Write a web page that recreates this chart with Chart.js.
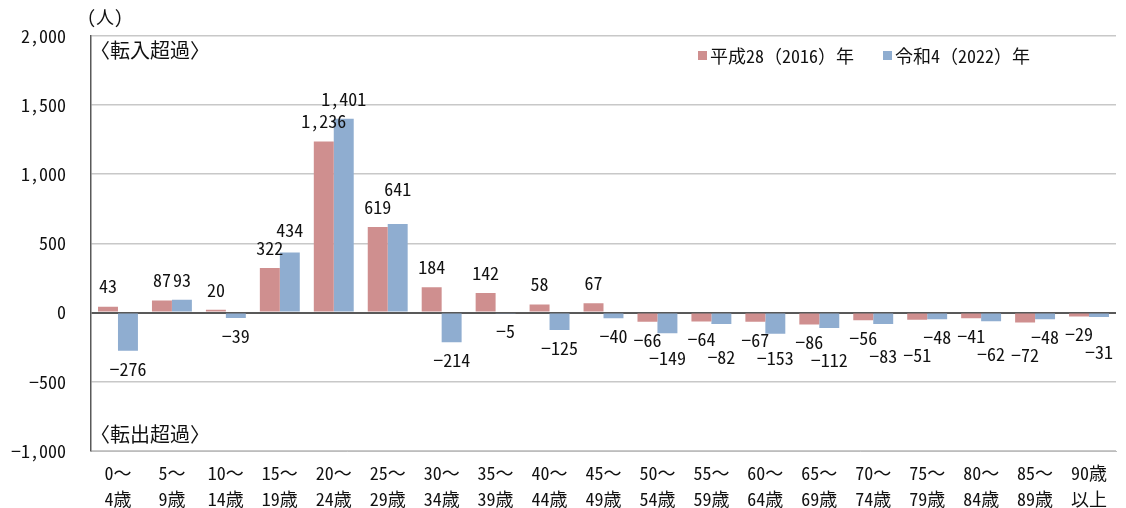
<!DOCTYPE html>
<html>
<head>
<meta charset="utf-8">
<script src="https://cdn.jsdelivr.net/npm/chart.js@4/dist/chart.umd.min.js"></script>
<style>
  html, body { margin: 0; padding: 0; background: #fff; }
  #wrap { width: 1126px; height: 508px; }
</style>
</head>
<body>
<div id="wrap"><canvas id="chart"></canvas></div>
<script>
// age groups (two-line labels)
const ageGroups = [
  ["0～", "4歳"], ["5～", "9歳"], ["10～", "14歳"], ["15～", "19歳"], ["20～", "24歳"],
  ["25～", "29歳"], ["30～", "34歳"], ["35～", "39歳"], ["40～", "44歳"], ["45～", "49歳"],
  ["50～", "54歳"], ["55～", "59歳"], ["60～", "64歳"], ["65～", "69歳"], ["70～", "74歳"],
  ["75～", "79歳"], ["80～", "84歳"], ["85～", "89歳"], ["90歳", "以上"]
];

const seriesNames = ["平成28（2016）年", "令和4（2022）年"];
const values2016 = [43, 87, 20, 322, 1236, 619, 184, 142, 58, 67, -66, -64, -67, -86, -56, -51, -41, -72, -29];
const values2022 = [-276, 93, -39, 434, 1401, 641, -214, -5, -125, -40, -149, -82, -153, -112, -83, -48, -62, -48, -31];

const yTicks = [-1000, -500, 0, 500, 1000, 1500, 2000];
const unitLabel = "(人)";
const inLabel = "〈転入超過〉";
const outLabel = "〈転出超過〉";

const colors = ["#cf8f8f", "#8fadd0"];
const FONT = "'Noto Sans Mono CJK JP', 'Noto Sans CJK JP', 'DejaVu Sans Mono', sans-serif";

function fmt(v) {
  const s = Math.abs(v).toLocaleString("en-US");
  return v < 0 ? "−" + s : s;
}

// value labels, legend and annotations
const overlay = {
  id: "overlay",
  afterDatasetsDraw(chart) {
    const ctx = chart.ctx;
    const area = chart.chartArea;
    ctx.save();
    ctx.font = "18px " + FONT;
    ctx.fillStyle = "#111";
    ctx.textAlign = "center";
    ctx.textBaseline = "middle";

    const m0 = chart.getDatasetMeta(0).data;
    const m1 = chart.getDatasetMeta(1).data;
    const zero = chart.scales.y.getPixelForValue(0);
    ageGroups.forEach((_, i) => {
      const pts = [m0[i], m1[i]].map((bar, d) => {
        const v = chart.data.datasets[d].data[i];
        const end = v >= 0 ? Math.min(bar.y, zero) : Math.max(bar.y, zero);
        const text = fmt(v);
        return { x: bar.x, y: v >= 0 ? end - 20 : end + 18, v, text, w: ctx.measureText(text).width };
      });
      // nudge the larger one away when both labels on same side collide
      const [a, b] = pts;
      const overlapX = (a.w + b.w) / 2 > Math.abs(a.x - b.x) + 1;
      if (overlapX && (a.v >= 0) === (b.v >= 0) && Math.abs(a.y - b.y) < 18) {
        const far = Math.abs(a.v) > Math.abs(b.v) ? a : b;
        const near = far === a ? b : a;
        far.y = near.y + (far.v >= 0 ? -18 : 18);
      }
      pts.forEach(p => ctx.fillText(p.text, p.x, p.y));
    });

    ctx.textAlign = "left";
    ctx.fillText(unitLabel, area.left - 4, 17);

    // legend
    let lx = 698;
    seriesNames.forEach((name, d) => {
      ctx.fillStyle = colors[d];
      ctx.fillRect(lx, 51, 9, 9);
      ctx.fillStyle = "#111";
      ctx.fillText(name, lx + 12, 56);
      lx += 185;
    });

    ctx.font = "20px " + FONT;
    ctx.fillText(inLabel, area.left - 1, area.top + 15);
    ctx.fillText(outLabel, area.left - 1, area.bottom - 17);
    ctx.restore();
  }
};

new Chart(document.getElementById("chart"), {
  type: "bar",
  data: {
    labels: ageGroups,
    datasets: [
      { label: seriesNames[0], data: values2016, backgroundColor: colors[0] },
      { label: seriesNames[1], data: values2022, backgroundColor: colors[1] }
    ]
  },
  options: {
    responsive: true,
    maintainAspectRatio: false,
    animation: false,
    layout: { padding: { top: 33, right: 10, left: 0, bottom: 0 } },
    datasets: { bar: { categoryPercentage: 0.74, barPercentage: 1.0 } },
    plugins: { legend: { display: false }, tooltip: { enabled: false } },
    scales: {
      x: {
        grid: { display: false, drawTicks: false },
        border: { color: "#bdbdbd" },
        ticks: {
          color: "#111",
          font: { family: FONT, size: 18, lineHeight: 1.4 },
          padding: 10,
          maxRotation: 0,
          autoSkip: false
        },
        afterFit(scale) { scale.height = 57; }
      },
      y: {
        min: -1000,
        max: 2000,
        afterBuildTicks(scale) { scale.ticks = yTicks.map(v => ({ value: v })); },
        grid: {
          drawTicks: false,
          color: ctx => ctx.tick && ctx.tick.value === 0 ? "#595959" : "#c8c8c8",
          lineWidth: ctx => ctx.tick && ctx.tick.value === 0 ? 2 : 1.5
        },
        border: { color: "#595959", width: 1.5 },
        ticks: {
          color: "#111",
          font: { family: FONT, size: 18 },
          padding: 25,
          callback: v => fmt(v)
        },
        afterFit(scale) { scale.width = 91; }
      }
    }
  },
  plugins: [overlay]
});
</script>
</body>
</html>
